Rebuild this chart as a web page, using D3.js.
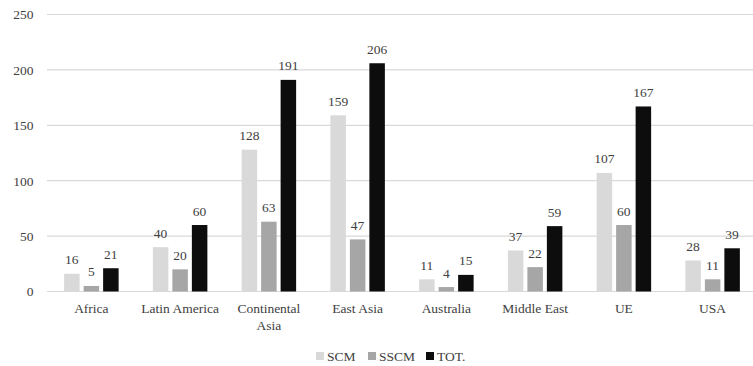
<!DOCTYPE html>
<html>
<head>
<meta charset="utf-8">
<script src="https://cdn.jsdelivr.net/npm/d3@7"></script>
<style>
  html, body { margin: 0; padding: 0; background: #fff; }
  svg { display: block; }
</style>
</head>
<body>
<svg id="chart" width="753" height="366"></svg>
<script>
// Regions and their counts per series
const categories = ["Africa", "Latin America", "Continental Asia", "East Asia", "Australia", "Middle East", "UE", "USA"];
const seriesNames = ["SCM", "SSCM", "TOT."];
const scmValues  = [16, 40, 128, 159, 11, 37, 107, 28];
const sscmValues = [5, 20, 63, 47, 4, 22, 60, 11];
const totValues  = [21, 60, 191, 206, 15, 59, 167, 39];
const seriesColors = ["#d9d9d9", "#a6a6a6", "#0d0d0d"];
const yTicks = [0, 50, 100, 150, 200, 250];

const seriesValues = [scmValues, sscmValues, totValues];
const FONT = "'Liberation Serif', serif";
const textStyle = sel => sel
  .style("font-family", FONT)
  .style("font-size", "13.5px")
  .style("fill", "#404040");

const svg = d3.select("#chart");
const margin = { left: 47, top: 14.5, bottom: 291.5 };
const bandWidth = 88.75;

const x = d3.scaleBand()
  .domain(categories)
  .range([margin.left, margin.left + bandWidth * categories.length])
  .paddingInner(0.386)
  .paddingOuter(0.193);

const x1 = d3.scaleBand()
  .domain(seriesNames)
  .range([0, x.bandwidth()])
  .paddingInner(0.205);

const y = d3.scaleLinear().domain([0, 250]).range([margin.bottom, margin.top]);

// Horizontal gridlines
svg.append("g")
  .selectAll("line")
  .data(yTicks)
  .join("line")
  .attr("x1", margin.left)
  .attr("x2", 753)
  .attr("y1", d => y(d))
  .attr("y2", d => y(d))
  .attr("stroke", "#d9d9d9")
  .attr("stroke-width", 1.2);

// Y axis labels
const yAxis = d3.axisLeft(y).tickValues(yTicks).tickSize(0).tickPadding(0);
const yG = svg.append("g").attr("transform", "translate(33.5,0)").call(yAxis);
yG.attr("font-family", null).attr("font-size", null);
yG.select(".domain").remove();
yG.selectAll("text").call(textStyle);

// Bars
const groups = svg.append("g")
  .selectAll("g")
  .data(categories)
  .join("g")
  .attr("transform", d => `translate(${x(d)},0)`);

const cells = (d, i) => seriesNames.map((s, j) => ({ s, j, v: seriesValues[j][i] }));

groups.selectAll("rect")
  .data(cells)
  .join("rect")
  .attr("x", d => x1(d.s))
  .attr("width", x1.bandwidth())
  .attr("y", d => y(d.v))
  .attr("height", d => y(0) - y(d.v))
  .attr("fill", d => seriesColors[d.j]);

groups.selectAll("text.val")
  .data(cells)
  .join("text")
  .attr("class", "val")
  .attr("x", d => x1(d.s) + x1.bandwidth() / 2)
  .attr("y", d => y(d.v) - 9.5)
  .attr("text-anchor", "middle")
  .call(textStyle)
  .text(d => d.v);

// Category labels (wrapped where two lines are needed)
const catLines = { "Continental Asia": ["Continental", "Asia"] };
const xl = svg.append("g");
categories.forEach(c => {
  const lines = catLines[c] || [c];
  const cx = x(c) + x.bandwidth() / 2;
  const t = xl.append("text")
    .attr("x", cx)
    .attr("y", 313)
    .attr("text-anchor", "middle")
    .call(textStyle);
  lines.forEach((ln, i) => {
    t.append("tspan")
      .attr("x", cx)
      .attr("dy", i === 0 ? 0 : 16.5)
      .text(ln);
  });
});

// Legend
const legendX = [316, 368, 426];
const legend = svg.append("g");
seriesNames.forEach((s, i) => {
  legend.append("rect")
    .attr("x", legendX[i])
    .attr("y", 352)
    .attr("width", 8)
    .attr("height", 8)
    .attr("fill", seriesColors[i]);
  legend.append("text")
    .attr("x", legendX[i] + 11)
    .attr("y", 360.5)
    .call(textStyle)
    .text(s);
});
</script>
</body>
</html>
